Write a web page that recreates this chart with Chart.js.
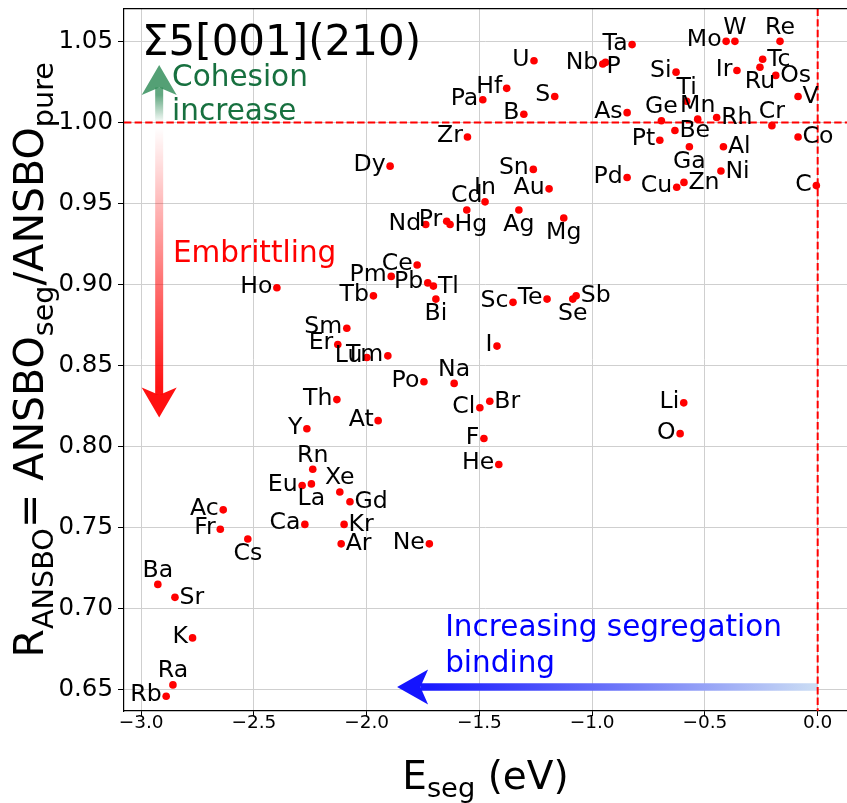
<!DOCTYPE html>
<html>
<head>
<meta charset="utf-8">
<script src="https://cdn.jsdelivr.net/npm/chart.js@4.4.1/dist/chart.umd.min.js"></script>
<style>
  html, body { margin: 0; padding: 0; background: #ffffff; overflow: hidden; }
  canvas { display: block; }
</style>
</head>
<body>
<canvas id="chart" width="847" height="803"></canvas>
<script>
// Solute elements at the Σ5[001](210) grain boundary
const elements = [
  'Ta','U','Nb','P','Mo','W','Re','Tc','Ru','Ir','Os','Si','Ti','Pa','Hf','S','B','As','Ge','Mn',
  'Rh','Cr','V','Zr','Pt','Be','Co','Al','Ga','Ni','Sn','Pd','Cu','Zn','C','Au','Dy','In','Cd','Nd',
  'Pr','Hg','Ag','Mg','Ce','Pm','Pb','Tl','Tb','Bi','Sc','Te','Se','Sb','Ho','Sm','Er','Lu','Tm','Po',
  'Na','I','Th','At','Y','Cl','Br','F','He','Rn','Eu','La','Xe','Gd','Kr','Ar','Ca','Ne','Ac','Fr',
  'Cs','Ba','Sr','K','Ra','Rb','Li','O'
];

// Segregation energy, eV
const segEnergy = [
  -0.823,-1.258,-0.953,-0.941,-0.406,-0.367,-0.167,-0.244,-0.256,-0.358,-0.186,-0.628,-0.581,-1.485,-1.379,-1.166,-1.303,-0.845,-0.693,-0.532,
  -0.448,-0.203,-0.087,-1.553,-0.700,-0.633,-0.087,-0.418,-0.569,-0.429,-1.261,-0.845,-0.625,-0.593,-0.006,-1.191,-1.896,-1.475,-1.556,-1.738,
  -1.645,-1.630,-1.325,-1.126,-1.776,-1.891,-1.729,-1.704,-1.970,-1.693,-1.351,-1.200,-1.086,-1.071,-2.398,-2.088,-2.128,-1.999,-1.906,-1.746,
  -1.612,-1.422,-2.132,-1.949,-2.265,-1.498,-1.454,-1.480,-1.414,-2.239,-2.286,-2.245,-2.119,-2.074,-2.100,-2.113,-2.274,-1.722,-2.636,-2.649,
  -2.527,-2.926,-2.850,-2.772,-2.859,-2.889,-0.594,-0.610
];

// ANSBO ratio, segregated / pure boundary
const ansboRatio = [
  1.048,1.038,1.036,1.037,1.050,1.050,1.050,1.039,1.034,1.032,1.029,1.031,1.013,1.014,1.021,1.016,1.005,1.006,1.001,1.002,
  1.003,0.998,1.016,0.991,0.989,0.995,0.991,0.985,0.985,0.970,0.971,0.966,0.960,0.963,0.961,0.959,0.973,0.951,0.946,0.937,
  0.939,0.937,0.946,0.941,0.912,0.905,0.901,0.899,0.893,0.891,0.889,0.891,0.891,0.893,0.898,0.873,0.863,0.855,0.856,0.840,
  0.839,0.862,0.829,0.816,0.811,0.824,0.828,0.805,0.789,0.786,0.776,0.777,0.772,0.766,0.752,0.740,0.752,0.740,0.761,0.749,
  0.743,0.715,0.707,0.682,0.653,0.646,0.827,0.808
];

const xTickValues = [-3.0, -2.5, -2.0, -1.5, -1.0, -0.5, 0.0];
const yTickValues = [0.65, 0.70, 0.75, 0.80, 0.85, 0.90, 0.95, 1.00, 1.05];

// Which side of its point each element label sits on (default: west)
const labelSide = {
  Tc:'e', Os:'e', Rh:'e', Be:'e', Co:'e', Al:'e', Ni:'e', Zn:'e', V:'e', Hg:'e', Tl:'e', Sb:'e',
  Br:'e', Gd:'e', Kr:'e', Ar:'e', Sr:'e',
  W:'n', Re:'n', Ti:'n', Ge:'n', Mn:'n', Cr:'n', In:'n', Cd:'n', Na:'n', Rn:'n', Xe:'n', Ba:'n', Ra:'n',
  Ru:'s', Ga:'s', Ag:'s', Mg:'s', Se:'s', Bi:'s', La:'s', Cs:'s',
  P:'se'
};
const sideStyle = {
  w:  { align: 'right',  dx: -4.5, dy: 5 },
  e:  { align: 'left',   dx: 4.5,  dy: 6.5 },
  n:  { align: 'center', dx: 0,    dy: -7.5 },
  s:  { align: 'center', dx: 0,    dy: 21 },
  se: { align: 'left',   dx: 1,    dy: 11 }
};

const FONT = '"DejaVu Sans", "Liberation Sans", sans-serif';
const points = elements.map((el, i) => ({ x: segEnergy[i], y: ansboRatio[i] }));

function drawArrow(ctx, tx, ty, hx, hy, opt) {
  // tail (tx,ty) -> tip (hx,hy), gradient shaft and notched head
  const len = Math.hypot(hx - tx, hy - ty);
  const ux = (hx - tx) / len, uy = (hy - ty) / len;
  const nx = -uy, ny = ux;
  const bx = hx - ux * opt.headLen, by = hy - uy * opt.headLen;
  const notch = opt.headLen * 0.75;
  const kx = hx - ux * notch, ky = hy - uy * notch;
  const g = ctx.createLinearGradient(tx, ty, bx, by);
  opt.stops.forEach(s => g.addColorStop(s[0], s[1]));
  ctx.beginPath();
  const hw = opt.shaft / 2;
  ctx.moveTo(tx + nx * hw, ty + ny * hw);
  ctx.lineTo(kx + nx * hw, ky + ny * hw);
  ctx.lineTo(kx - nx * hw, ky - ny * hw);
  ctx.lineTo(tx - nx * hw, ty - ny * hw);
  ctx.closePath();
  ctx.fillStyle = g;
  ctx.fill();
  ctx.beginPath();
  ctx.moveTo(hx, hy);
  ctx.lineTo(bx + nx * opt.headHalf, by + ny * opt.headHalf);
  ctx.lineTo(kx, ky);
  ctx.lineTo(bx - nx * opt.headHalf, by - ny * opt.headHalf);
  ctx.closePath();
  ctx.fillStyle = opt.head;
  ctx.fill();
}

function drawRich(ctx, parts, size, subShift) {
  // draws text with subscripts, centred on x = 0, baseline y = 0
  const subSize = size * 0.7;
  let total = 0;
  parts.forEach(p => {
    ctx.font = (p.sub ? subSize : size) + 'px ' + FONT;
    p.w = ctx.measureText(p.t).width;
    total += p.w;
  });
  let x = -total / 2;
  ctx.textAlign = 'left';
  ctx.textBaseline = 'alphabetic';
  parts.forEach(p => {
    ctx.font = (p.sub ? subSize : size) + 'px ' + FONT;
    ctx.fillText(p.t, x, p.sub ? subShift : 0);
    x += p.w;
  });
}

const decor = {
  id: 'decor',
  beforeDatasetsDraw(chart) {
    const { ctx, chartArea: a, scales: { x, y } } = chart;
    ctx.save();
    const ax = x.getPixelForValue(-2.92);
    // cohesion (up) and embrittling (down) arrows
    drawArrow(ctx, ax, y.getPixelForValue(0.9995), ax, y.getPixelForValue(1.0354), {
      shaft: 8, headLen: 30, headHalf: 17.5,
      stops: [[0, 'rgba(46,139,87,0)'], [1, 'rgba(46,139,87,0.75)']],
      head: 'rgba(46,139,87,0.82)'
    });
    drawArrow(ctx, ax, y.getPixelForValue(0.997), ax, y.getPixelForValue(0.818), {
      shaft: 8, headLen: 30, headHalf: 17.5,
      stops: [[0, 'rgba(255,0,0,0)'], [1, 'rgba(255,0,0,0.93)']],
      head: 'rgba(255,8,8,0.97)'
    });
    // segregation binding arrow
    const by = y.getPixelForValue(0.6517);
    drawArrow(ctx, x.getPixelForValue(0), by, x.getPixelForValue(-1.865), by, {
      shaft: 7.5, headLen: 31, headHalf: 17.5,
      stops: [[0, 'rgb(204,222,244)'], [0.45, 'rgb(120,130,248)'], [1, 'rgb(25,25,255)']],
      head: 'rgb(20,20,255)'
    });
    // reference lines at R = 1 and E = 0
    ctx.strokeStyle = '#ff0000';
    ctx.lineWidth = 2;
    ctx.setLineDash([7.4, 3.2]);
    const y1 = y.getPixelForValue(1.0), x0 = x.getPixelForValue(0);
    ctx.beginPath(); ctx.moveTo(a.left, y1); ctx.lineTo(a.right, y1); ctx.stroke();
    ctx.beginPath(); ctx.moveTo(x0, a.top); ctx.lineTo(x0, a.bottom); ctx.stroke();
    ctx.restore();
  },
  afterDatasetsDraw(chart) {
    const { ctx, chartArea: a, scales: { x, y } } = chart;
    ctx.save();
    // element labels
    ctx.font = '23.6px ' + FONT;
    ctx.fillStyle = '#000000';
    ctx.textBaseline = 'alphabetic';
    elements.forEach((el, i) => {
      const st = sideStyle[labelSide[el] || 'w'];
      ctx.textAlign = st.align;
      ctx.fillText(el, x.getPixelForValue(segEnergy[i]) + st.dx, y.getPixelForValue(ansboRatio[i]) + st.dy);
    });
    ctx.textAlign = 'left';
    // boundary name
    ctx.font = '42px ' + FONT;
    ctx.fillText('Σ5[001](210)', a.left + 18, a.top + 46.5);
    // arrow captions
    ctx.font = '29.5px ' + FONT;
    ctx.fillStyle = '#17703f';
    const cx = x.getPixelForValue(-2.863), cy = y.getPixelForValue(1.0224);
    ctx.fillText('Cohesion', cx, cy);
    ctx.fillText('increase', cx, cy + 34);
    ctx.fillStyle = '#ff0000';
    ctx.fillText('Embrittling', x.getPixelForValue(-2.859), y.getPixelForValue(0.9139));
    ctx.fillStyle = '#0000ff';
    const ix = x.getPixelForValue(-1.652), iy = y.getPixelForValue(0.6833);
    ctx.fillText('Increasing segregation', ix, iy);
    ctx.fillText('binding', ix, iy + 36);
    ctx.restore();
  },
  afterDraw(chart) {
    const { ctx, chartArea: a } = chart;
    ctx.save();
    // top spine
    ctx.strokeStyle = '#000000';
    ctx.lineWidth = 1.2;
    ctx.beginPath(); ctx.moveTo(a.left, a.top); ctx.lineTo(a.right, a.top); ctx.stroke();
    ctx.fillStyle = '#000000';
    // x axis title
    ctx.save();
    ctx.translate((a.left + a.right) / 2, 789);
    drawRich(ctx, [{ t: 'E' }, { t: 'seg', sub: true }, { t: ' (eV)' }], 39, 8);
    ctx.restore();
    // y axis title
    ctx.save();
    ctx.translate(43, (a.top + a.bottom) / 2);
    ctx.rotate(-Math.PI / 2);
    drawRich(ctx, [
      { t: 'R' }, { t: 'ANSBO', sub: true }, { t: '= ANSBO' }, { t: 'seg', sub: true },
      { t: '/ANSBO' }, { t: 'pure', sub: true }
    ], 41, 9.5);
    ctx.restore();
    ctx.restore();
  }
};

new Chart(document.getElementById('chart'), {
  type: 'scatter',
  data: {
    datasets: [{
      data: points,
      backgroundColor: '#ff0000',
      borderWidth: 0,
      pointRadius: 3.8,
      pointHoverRadius: 3.8
    }]
  },
  options: {
    responsive: false,
    animation: false,
    devicePixelRatio: 1,
    layout: { autoPadding: false, padding: { top: 8.6, left: 0, right: 0, bottom: 0 } },
    plugins: { legend: { display: false }, tooltip: { enabled: false } },
    scales: {
      x: {
        type: 'linear',
        min: -3.076,
        max: 0.13,
        afterBuildTicks: s => { s.ticks = xTickValues.map(v => ({ value: v })); },
        afterFit: s => { s.height = 92; s.paddingLeft = 0; s.paddingRight = 0; },
        ticks: {
          padding: -4,
          color: '#000000',
          font: { family: FONT, size: 18.5 },
          callback: v => (v < 0 ? '\u2212' : '') + Math.abs(v).toFixed(1)
        },
        grid: { color: '#cfcfcf', lineWidth: 1, tickLength: 5, tickColor: '#000000' },
        border: { display: true, color: '#000000', width: 1.2 }
      },
      y: {
        type: 'linear',
        min: 0.6369,
        max: 1.0702,
        afterBuildTicks: s => { s.ticks = yTickValues.map(v => ({ value: v })); },
        afterFit: s => { s.width = 124; s.paddingTop = 0; s.paddingBottom = 0; },
        ticks: {
          padding: 5,
          color: '#000000',
          font: { family: FONT, size: 24.5 },
          callback: v => v.toFixed(2)
        },
        grid: { color: '#cfcfcf', lineWidth: 1, tickLength: 6, tickColor: '#000000' },
        border: { display: true, color: '#000000', width: 1.2 }
      }
    }
  },
  plugins: [decor]
});
</script>
</body>
</html>
